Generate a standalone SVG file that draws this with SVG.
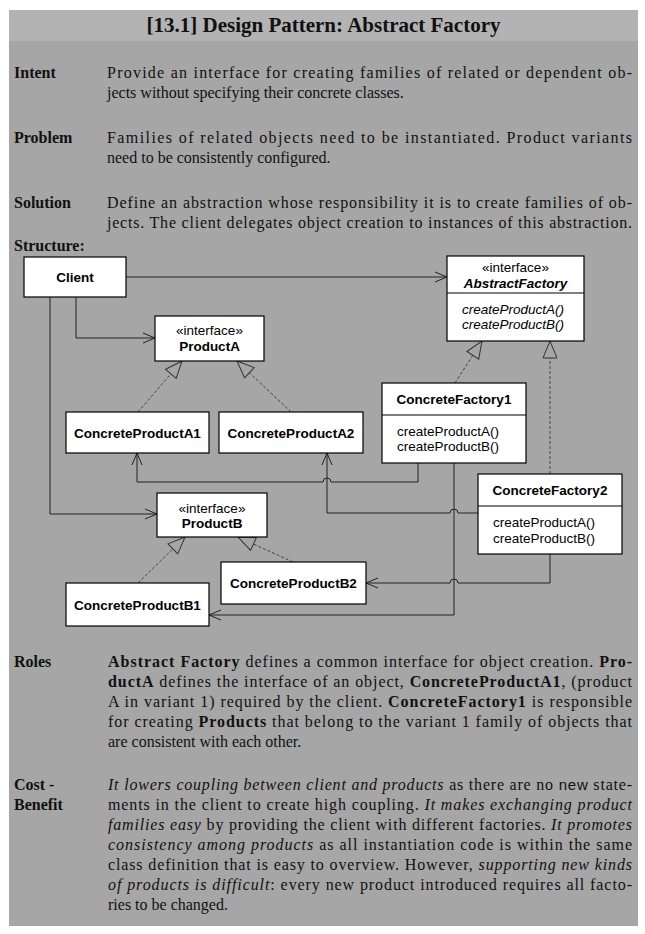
<svg xmlns="http://www.w3.org/2000/svg" width="645" height="934" viewBox="0 0 645 934">
<style>
.lbl{font-family:"Liberation Serif",serif;font-size:16px;font-weight:bold;fill:#111}
.txt{font-family:"Liberation Serif",serif;font-size:16px;fill:#111}
.b{font-weight:bold}
.i{font-style:italic}
.mono{font-family:"Liberation Sans",Arial,sans-serif;font-size:15px;font-style:normal}
.box{fill:#fff;stroke:#000;stroke-width:1.2}
.div{stroke:#000;stroke-width:1}
.nt{font-family:"Liberation Sans",Arial,sans-serif;font-size:13.5px;fill:#000}
.nb{font-weight:bold}
.conn{fill:none;stroke:#222;stroke-width:1}
.gen{fill:none;stroke:#444;stroke-width:1;stroke-dasharray:3 2}
</style>
<defs>
<marker id="open" viewBox="0 0 14 12" markerWidth="14" markerHeight="12" refX="13" refY="6" orient="auto" markerUnits="userSpaceOnUse">
<path d="M1 1 L13 6 L1 11" fill="none" stroke="#222" stroke-width="1"/>
</marker>
<marker id="tri" viewBox="0 0 19 16" markerWidth="19" markerHeight="16" refX="18" refY="8" orient="auto" markerUnits="userSpaceOnUse">
<path d="M1 1 L18 8 L1 15 Z" fill="#a6a6a6" stroke="#333" stroke-width="1" stroke-dasharray="none"/>
</marker>
</defs>
<rect x="0" y="0" width="645" height="934" fill="#fff"/>
<rect x="9" y="10" width="629" height="916" fill="#a6a6a6"/>
<rect x="9" y="10" width="629" height="31" fill="#b3b3b3"/>
<text x="323.5" y="32" text-anchor="middle" style="font-family:'Liberation Serif',serif;font-size:21px;font-weight:bold;fill:#111">[13.1] Design Pattern: Abstract Factory</text>

<g id="intent">
<text class="lbl" x="14" y="78">Intent</text>
<text class="txt" x="107" y="78" textLength="525" lengthAdjust="spacing">Provide an interface for creating families of related or dependent ob-</text>
<text class="txt" x="107" y="98">jects without specifying their concrete classes.</text>
</g>
<g id="problem">
<text class="lbl" x="14" y="143">Problem</text>
<text class="txt" x="107" y="143" textLength="525" lengthAdjust="spacing">Families of related objects need to be instantiated.  Product variants</text>
<text class="txt" x="107" y="163">need to be consistently configured.</text>
</g>
<g id="solution">
<text class="lbl" x="14" y="208">Solution</text>
<text class="txt" x="107" y="208" textLength="525" lengthAdjust="spacing">Define an abstraction whose responsibility it is to create families of ob-</text>
<text class="txt" x="107" y="228" textLength="525" lengthAdjust="spacing">jects. The client delegates object creation to instances of this abstraction.</text>
</g>
<text class="lbl" x="14" y="251">Structure:</text>

<g id="connectors">
<path class="conn" d="M126 277 H447" marker-end="url(#open)"/>
<path class="conn" d="M76 297 V338 H155" marker-end="url(#open)"/>
<path class="conn" d="M50 297 V514 H157" marker-end="url(#open)"/>
<path class="conn" d="M418 463 V482 H331 A4 4 0 0 0 323 482 H137 V453" marker-end="url(#open)"/>
<path class="conn" d="M478 513 H458 A4 4 0 0 0 450 513 H327 V453" marker-end="url(#open)"/>
<path class="conn" d="M454 463 V615 H209" marker-end="url(#open)"/>
<path class="conn" d="M550 554 V583 H458 A4 4 0 0 0 450 583 H366" marker-end="url(#open)"/>
<path class="gen" d="M138 412 L182 361" marker-end="url(#tri)"/>
<path class="gen" d="M291 412 L237 361" marker-end="url(#tri)"/>
<path class="gen" d="M455 383 L482 341" marker-end="url(#tri)"/>
<path class="gen" d="M550 474 V341" marker-end="url(#tri)"/>
<path class="gen" d="M138 583 L185 537" marker-end="url(#tri)"/>
<path class="gen" d="M293 562 L238 537" marker-end="url(#tri)"/>
</g>

<g id="client">
<rect class="box" x="24" y="257" width="102" height="40"/>
<text class="nt nb" x="75" y="282" text-anchor="middle">Client</text>
</g>
<g id="abstractfactory">
<rect class="box" x="447" y="256" width="137" height="85"/>
<line class="div" x1="447" y1="293" x2="584" y2="293"/>
<text class="nt" x="515.5" y="271.5" text-anchor="middle">«interface»</text>
<text class="nt nb i" x="515.5" y="288" text-anchor="middle">AbstractFactory</text>
<text class="nt i" x="462" y="313.5">createProductA()</text>
<text class="nt i" x="462" y="329">createProductB()</text>
</g>
<g id="producta">
<rect class="box" x="155" y="316" width="109" height="45"/>
<text class="nt" x="209.5" y="334.5" text-anchor="middle">«interface»</text>
<text class="nt nb" x="209.5" y="351" text-anchor="middle">ProductA</text>
</g>
<g id="concreteproducta1">
<rect class="box" x="66" y="412" width="143" height="41"/>
<text class="nt nb" x="137.5" y="437.5" text-anchor="middle">ConcreteProductA1</text>
</g>
<g id="concreteproducta2">
<rect class="box" x="219" y="412" width="144" height="41"/>
<text class="nt nb" x="291" y="437.5" text-anchor="middle">ConcreteProductA2</text>
</g>
<g id="concretefactory1">
<rect class="box" x="382" y="383" width="144" height="80"/>
<line class="div" x1="382" y1="415" x2="526" y2="415"/>
<text class="nt nb" x="454" y="404" text-anchor="middle">ConcreteFactory1</text>
<text class="nt" x="397" y="436">createProductA()</text>
<text class="nt" x="397" y="451">createProductB()</text>
</g>
<g id="concretefactory2">
<rect class="box" x="478" y="474" width="144" height="80"/>
<line class="div" x1="478" y1="506" x2="622" y2="506"/>
<text class="nt nb" x="550" y="495" text-anchor="middle">ConcreteFactory2</text>
<text class="nt" x="493" y="527">createProductA()</text>
<text class="nt" x="493" y="542.5">createProductB()</text>
</g>
<g id="productb">
<rect class="box" x="157" y="493" width="110" height="44"/>
<text class="nt" x="212" y="512.5" text-anchor="middle">«interface»</text>
<text class="nt nb" x="212" y="528" text-anchor="middle">ProductB</text>
</g>
<g id="concreteproductb1">
<rect class="box" x="66" y="583" width="143" height="43"/>
<text class="nt nb" x="137.5" y="609.5" text-anchor="middle">ConcreteProductB1</text>
</g>
<g id="concreteproductb2">
<rect class="box" x="221" y="562" width="145" height="42"/>
<text class="nt nb" x="293.5" y="588" text-anchor="middle">ConcreteProductB2</text>
</g>

<g id="roles">
<text class="lbl" x="14" y="667">Roles</text>
<text class="txt" x="108" y="667" textLength="524" lengthAdjust="spacing"><tspan class="b">Abstract Factory</tspan> defines a common interface for object creation. <tspan class="b">Pro-</tspan></text>
<text class="txt" x="108" y="687" textLength="524" lengthAdjust="spacing"><tspan class="b">ductA</tspan> defines the interface of an object, <tspan class="b">ConcreteProductA1</tspan>, (product</text>
<text class="txt" x="108" y="707" textLength="524" lengthAdjust="spacing">A in variant 1) required by the client. <tspan class="b">ConcreteFactory1</tspan> is responsible</text>
<text class="txt" x="108" y="727" textLength="524" lengthAdjust="spacing">for creating <tspan class="b">Products</tspan> that belong to the variant 1 family of objects that</text>
<text class="txt" x="108" y="747">are consistent with each other.</text>
</g>
<g id="costbenefit">
<text class="lbl" x="14" y="790">Cost -</text>
<text class="lbl" x="14" y="810">Benefit</text>
<text class="txt" x="108" y="790" textLength="524" lengthAdjust="spacing"><tspan class="i">It lowers coupling between client and products</tspan> as there are no <tspan class="mono">new</tspan> state-</text>
<text class="txt" x="108" y="810" textLength="524" lengthAdjust="spacing">ments in the client to create high coupling. <tspan class="i">It makes exchanging product</tspan></text>
<text class="txt" x="108" y="830" textLength="524" lengthAdjust="spacing"><tspan class="i">families easy</tspan> by providing the client with different factories. <tspan class="i">It promotes</tspan></text>
<text class="txt" x="108" y="850" textLength="524" lengthAdjust="spacing"><tspan class="i">consistency among products</tspan> as all instantiation code is within the same</text>
<text class="txt" x="108" y="870" textLength="524" lengthAdjust="spacing">class definition that is easy to overview. However, <tspan class="i">supporting new kinds</tspan></text>
<text class="txt" x="108" y="890" textLength="524" lengthAdjust="spacing"><tspan class="i">of products is difficult</tspan>: every new product introduced requires all facto-</text>
<text class="txt" x="108" y="910">ries to be changed.</text>
</g>
</svg>
